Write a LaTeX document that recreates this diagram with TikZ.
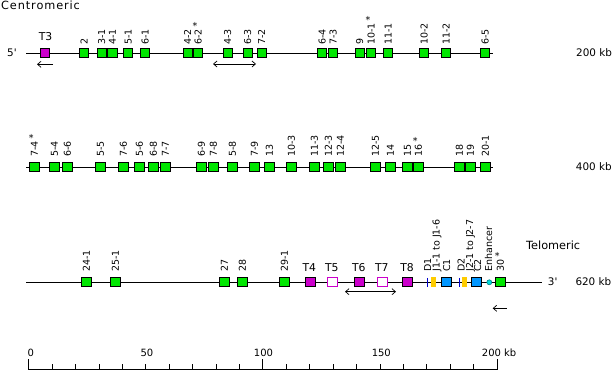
\documentclass[tikz,border=0pt]{standalone}
\usepackage{fontspec}
\setmainfont{DejaVu Sans}[Ligatures=TeXOff]
\usetikzlibrary{arrows.meta}
\definecolor{ggreen}{RGB}{0,230,0}
\definecolor{tmag}{RGB}{204,0,204}
\definecolor{cblue}{RGB}{0,150,255}
\definecolor{jyel}{RGB}{255,204,0}
\definecolor{dblue}{RGB}{0,0,204}
\definecolor{enhfill}{RGB}{0,220,220}
\definecolor{enhdraw}{RGB}{0,130,140}
\begin{document}
\begin{tikzpicture}[x=1pt,y=-1pt,
  gene/.style={draw=black, line width=0.8pt, fill=ggreen, minimum size=9.2pt, inner sep=0pt},
  tbox/.style={gene, fill=tmag},
  tempty/.style={gene, draw=tmag, fill=white},
  cbox/.style={gene, fill=cblue},
  jbox/.style={fill=jyel, minimum width=5pt, minimum height=10pt, inner sep=0pt},
  dline/.style={draw=dblue, line width=1pt},
  chrom/.style={draw=black, line width=0.9pt},
  vlab/.style={rotate=90, anchor=west, inner sep=0pt, font=\fontsize{9.5}{11}\selectfont, text height=7pt, text depth=0pt},
  tlab/.style={anchor=base, inner sep=0pt, font=\fontsize{10.8}{12}\selectfont},
  txt/.style={anchor=base west, inner sep=0pt, font=\fontsize{10.4}{12}\selectfont},
  big/.style={anchor=base west, inner sep=0pt, font=\fontsize{11.3}{13}\selectfont},
  star/.style={anchor=base, inner sep=0pt, font=\fontsize{9.5}{11}\selectfont},
  arr/.style={draw=black, line width=0.7pt, -{Straight Barb[length=3.5pt,width=6pt]}},
  darr/.style={draw=black, line width=0.7pt, {Straight Barb[length=3.5pt,width=6pt]}-{Straight Barb[length=3.5pt,width=6pt]}},
  sbar/.style={draw=black, line width=0.8pt},
  slab/.style={anchor=base, inner sep=0pt, font=\fontsize{10}{12}\selectfont}
]
\useasboundingbox (0,0) rectangle (613,371);

% ---------------- headings and end texts
\node[big] (centro) at (1,9.5) {\addfontfeatures{LetterSpace=8}Centromeric};
\node[big] (telo) at (526,249.3) {Telomeric};
\node[txt] (five) at (7,57) {5'};
\node[txt] (kb200) at (576,57) {200 kb};
\node[txt] (kb400) at (575.7,171) {400 kb};
\node[txt] (kb620) at (575.3,286) {620 kb};
\node[txt] (three) at (547.7,286) {3'};

% ---------------- chromosome lines
\coordinate (r1s) at (26,53.3);  \coordinate (r1e) at (493,53.3);
\coordinate (r2s) at (26,167.3); \coordinate (r2e) at (493.3,167.3);
\coordinate (r3s) at (26,282.3); \coordinate (r3e) at (541.7,282.3);
\draw[chrom] (r1s) -- (r1e);
\draw[chrom] (r2s) -- (r2e);
\draw[chrom] (r3s) -- (r3e);

% ---------------- row 1
\node[tbox] (t3) at (44.7,53.3) {};
\node[tlab] (t3l) at (45.5,40.7) {T3};
\foreach [count=\i] \x/\t in {84/2,101.7/3-1,112.3/4-1,128/5-1,145/6-1,187.7/4-2,198/6-2,227.7/4-3,247.7/6-3,261.7/7-2,322.2/6-4,333/7-3,359.5/9,371/10-1,388/11-1,424/10-2,446/11-2,485/6-5}{
  \node[gene] (r1g\i) at (\x,53.3) {};
  \node[vlab] (r1l\i) at (\x,45) {\t};
}
\node[star] (s1) at ([xshift=-3pt]r1l7.east) {*};
\node[star] (s2) at ([xshift=-3pt]r1l14.east) {*};

% ---------------- row 2
\foreach [count=\i] \x/\t in {34.3/7-4,54.3/5-4,67.3/6-6,100.3/5-5,123.3/7-6,139.3/5-6,153.3/6-8,165.3/7-7,201.3/6-9,213.3/7-8,232.3/5-8,254.3/7-9,269.3/13,291.3/10-3,314.3/11-3,328.3/12-3,340.3/12-4,375.3/12-5,390.3/14,407.3/15,418.3/16,459.3/18,470.3/19,485.3/20-1}{
  \node[gene] (r2g\i) at (\x,167.3) {};
  \node[vlab] (r2l\i) at (\x,157) {\t};
}
\node[star] (s3) at ([xshift=-3pt]r2l1.east) {*};
\node[star] (s4) at ([xshift=-3pt]r2l21.east) {*};

% ---------------- row 3
\foreach [count=\i] \x/\t in {86.3/24-1,115.3/25-1,224.3/27,242.3/28,284.3/29-1}{
  \node[gene] (r3g\i) at (\x,282.3) {};
  \node[vlab] (r3l\i) at (\x,272) {\t};
}
\node[tbox]   (t4) at (310.3,282.3) {};
\node[tempty] (t5) at (332.3,282.3) {};
\node[tbox]   (t6) at (359.3,282.3) {};
\node[tempty] (t7) at (382.3,282.3) {};
\node[tbox]   (t8) at (407.3,282.3) {};
\foreach \n/\x in {T4/309.3,T5/331.8,T6/358.8,T7/381.8,T8/407}{
  \node[tlab] (l\n) at (\x,271.7) {\n};
}
\coordinate (d1t) at (427.5,277.8); \coordinate (d1b) at (427.5,286.8);
\coordinate (d2t) at (459,277.8);   \coordinate (d2b) at (459,286.8);
\draw[dline] (d1t) -- (d1b);
\draw[dline] (d2t) -- (d2b);
\node[jbox] (j1) at (433.5,282.3) {};
\node[cbox] (c1) at (446.3,282.3) {};
\node[jbox] (j2) at (464.5,282.3) {};
\node[cbox] (c2) at (476.3,282.3) {};
\node[circle, fill=enhfill, draw=enhdraw, line width=0.6pt, minimum size=5pt, inner sep=0pt] (enh) at (489.3,282.3) {};
\node[gene] (g30) at (500.3,282.3) {};
\node[vlab] (ld1) at (427.5,272) {D1};
\node[vlab] (lj1) at (436,272) {J1-1 to J1-6};
\node[vlab] (lc1) at (446.5,272) {C1};
\node[vlab] (ld2) at (461,272) {D2};
\node[vlab] (lj2) at (469.5,272) {J2-1 to J2-7};
\node[vlab] (lc2) at (477.5,272) {C2};
\node[vlab] (lenh) at (488.5,272) {Enhancer};
\node[vlab] (l30) at (500.3,272) {30};
\node[star] (s5) at ([xshift=-3pt]l30.east) {*};

% ---------------- arrows
\coordinate (a1s) at (53,64.3);   \coordinate (a1e) at (37,64.3);
\coordinate (a2s) at (213,64);    \coordinate (a2e) at (256,64);
\coordinate (a3s) at (345,291.7); \coordinate (a3e) at (396,291.7);
\coordinate (a4s) at (506.7,308.3); \coordinate (a4e) at (492.7,308.3);
\draw[arr] (a1s) -- (a1e);
\draw[darr] (a2s) -- (a2e);
\draw[darr] (a3s) -- (a3e);
\draw[arr] (a4s) -- (a4e);

% ---------------- scale bar
\foreach \k in {0,...,20}{
  \coordinate (sb\k) at ({28.7+\k*23.415},369.5);
}
\draw[sbar] (sb0) -- (sb20);
\foreach \k in {1,...,9,11,12,...,19}{
  \draw[sbar] (sb\k) -- ++(0,-5.5);
}
\foreach \k in {0,10,20}{
  \draw[sbar] (sb\k) -- ++(0,-10.5);
}
\node[slab, anchor=base west] (sl0) at (27.3,356) {0};
\node[slab] (sl50) at (147,356) {50};
\node[slab] (sl100) at (263.5,356) {100};
\node[slab] (sl150) at (381.3,356) {150};
\node[slab, anchor=base west] (sl200) at (481.7,356) {200 kb};
\end{tikzpicture}
\end{document}
